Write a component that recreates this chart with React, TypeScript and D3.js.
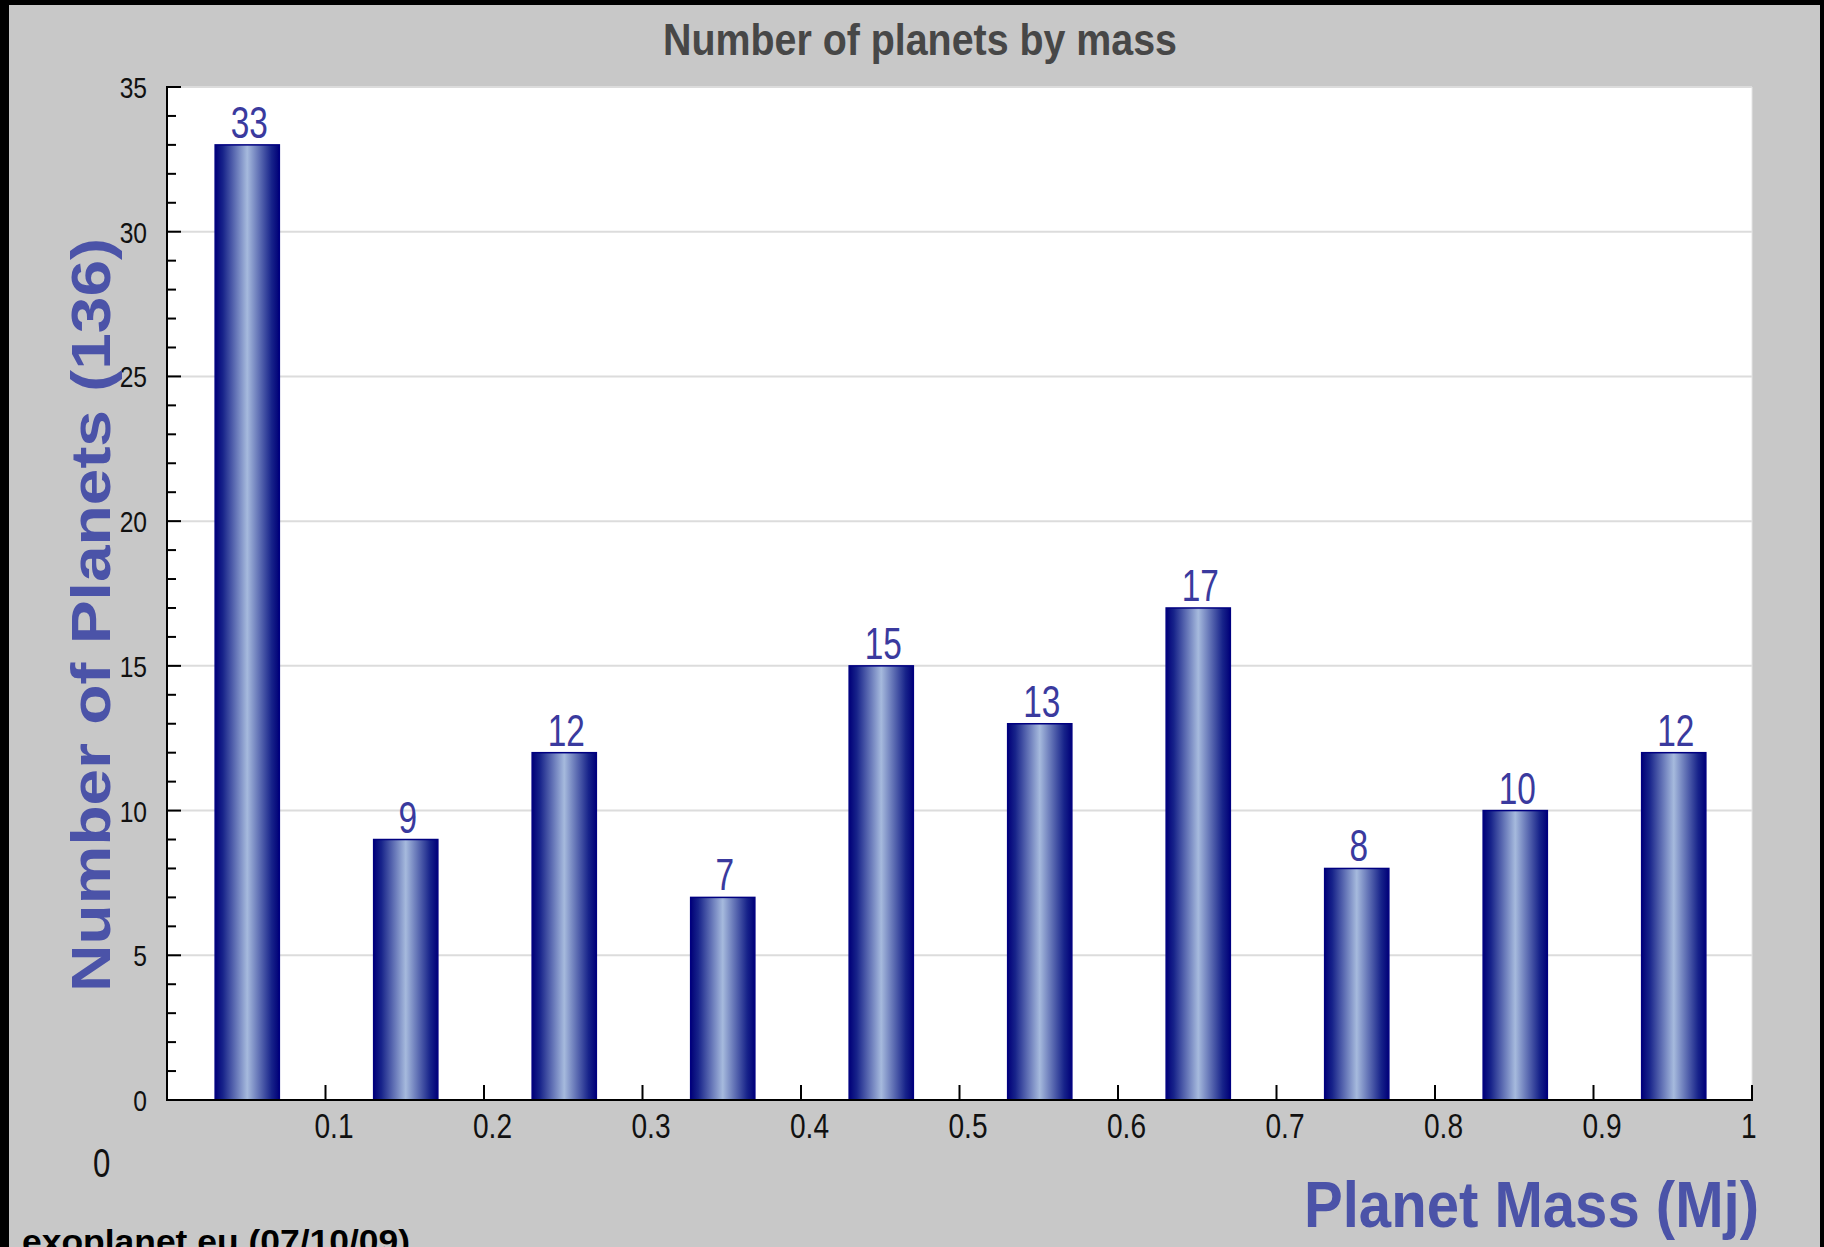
import React from "react";
import * as d3 from "d3";

const binLower = [0, 0.1, 0.2, 0.3, 0.4, 0.5, 0.6, 0.7, 0.8, 0.9];
const planetCounts = [33, 9, 12, 7, 15, 13, 17, 8, 10, 12];
const xTickValues = [0.1, 0.2, 0.3, 0.4, 0.5, 0.6, 0.7, 0.8, 0.9, 1];
const xTickLabels = ["0.1", "0.2", "0.3", "0.4", "0.5", "0.6", "0.7", "0.8", "0.9", "1"];
const yMajorTicks = [0, 5, 10, 15, 20, 25, 30, 35];
const yTickLabels = ["0", "5", "10", "15", "20", "25", "30", "35"];
const titleText = "Number of planets by mass";
const yTitleText = "Number of Planets (136)";
const xTitleText = "Planet Mass (Mj)";
const footerText = "exoplanet.eu (07/10/09)";

const W = 1824;
const H = 1247;
const FONT = "'Liberation Sans', Arial, sans-serif";

export default function App() {
  const x = d3.scaleLinear().domain([0, 1]).range([167, 1752]);
  const y = d3.scaleLinear().domain([0, 35]).range([1100, 87]);
  const binW = 0.1;
  const barFrac = 0.405;
  const minorTicks = d3.range(0, 36, 1);
  const blue = "#4b53a8";

  return (
    <svg
      width={W}
      height={H}
      viewBox={`0 0 ${W} ${H}`}
      style={{ position: "absolute", left: 0, top: 0, display: "block" }}
    >
      <defs>
        <linearGradient id="barGrad" x1="0" y1="0" x2="1" y2="0">
          <stop offset="0" stopColor="#000078" />
          <stop offset="0.12" stopColor="#17238a" />
          <stop offset="0.5" stopColor="#a6badd" />
          <stop offset="0.88" stopColor="#17238a" />
          <stop offset="1" stopColor="#000078" />
        </linearGradient>
      </defs>
      {/* frame */}
      <rect x={0} y={0} width={W} height={H} fill="#000" />
      <rect x={9} y={5} width={W - 13} height={H} fill="#c8c8c8" />
      {/* plot area */}
      <rect x={x(0)} y={y(35)} width={x(1) - x(0)} height={y(0) - y(35)} fill="#fff" />
      {yMajorTicks.filter((v) => v > 0).map((v) => (
        <line key={"g" + v} x1={x(0)} x2={x(1)} y1={y(v)} y2={y(v)} stroke="#dcdcdc" strokeWidth={2} />
      ))}
      <line x1={x(1)} x2={x(1)} y1={y(35)} y2={y(0)} stroke="#e4e4e4" strokeWidth={1} />

      {/* bars */}
      {planetCounts.map((c, i) => {
        const cx = binLower[i] + binW / 2;
        const x0 = x(cx - (binW * barFrac) / 2) + 1;
        const x1 = x(cx + (binW * barFrac) / 2) + 1;
        return (
          <g key={"b" + i}>
            <rect x={x0} y={y(c)} width={x1 - x0} height={y(0) - y(c)} fill="url(#barGrad)" stroke="#000080" strokeWidth={1.5} />
            <g transform={`translate(${(x0 + x1) / 2 + 2},${y(c) - 7}) scale(0.76,1)`}>
              <text textAnchor="middle" fontFamily={FONT} fontSize={44} fill="#3a3a9e">{String(c)}</text>
            </g>
          </g>
        );
      })}

      {/* axes */}
      <line x1={x(0)} x2={x(0)} y1={y(35) - 1} y2={y(0) + 1} stroke="#000" strokeWidth={2} />
      <line x1={x(0) - 1} x2={x(1) + 1} y1={y(0)} y2={y(0)} stroke="#000" strokeWidth={2} />
      {minorTicks.map((v) => (
        <line key={"t" + v} x1={x(0)} x2={x(0) + (v % 5 === 0 ? 14 : 9)} y1={y(v)} y2={y(v)} stroke="#000" strokeWidth={2} />
      ))}
      {xTickValues.map((v) => (
        <line key={"xt" + v} x1={x(v)} x2={x(v)} y1={y(0)} y2={y(0) - 15} stroke="#000" strokeWidth={2} />
      ))}

      {/* y tick labels */}
      {yMajorTicks.map((v, i) => (
        <g key={"yl" + v} transform={`translate(147,${y(v) + 11}) scale(0.82,1)`}>
          <text textAnchor="end" fontFamily={FONT} fontSize={30} fill="#111">{yTickLabels[i]}</text>
        </g>
      ))}
      {/* x tick labels */}
      {xTickValues.map((v, i) => (
        <g key={"xl" + v} transform={`translate(${x(v) - 11},1138) scale(0.78,1)`}>
          <text textAnchor="start" fontFamily={FONT} fontSize={36} fill="#111">{xTickLabels[i]}</text>
        </g>
      ))}
      <g transform="translate(93,1177) scale(0.78,1)">
        <text textAnchor="start" fontFamily={FONT} fontSize={40} fill="#111">0</text>
      </g>

      {/* titles */}
      <text x={920} y={55} textAnchor="middle" fontFamily={FONT} fontWeight="bold" fontSize={45} fill="#474747" textLength={514} lengthAdjust="spacingAndGlyphs">{titleText}</text>
      <text
        transform="translate(110,615) rotate(-90)"
        textAnchor="middle"
        fontFamily={FONT}
        fontWeight="bold"
        fontSize={56}
        fill={blue}
        textLength={754}
        lengthAdjust="spacingAndGlyphs"
      >
        {yTitleText}
      </text>
      <text x={1304} y={1227} textAnchor="start" fontFamily={FONT} fontWeight="bold" fontSize={65} fill={blue} textLength={455} lengthAdjust="spacingAndGlyphs">{xTitleText}</text>
      <text x={22} y={1253} textAnchor="start" fontFamily={FONT} fontWeight="bold" fontSize={34} fill="#000" textLength={388} lengthAdjust="spacingAndGlyphs">{footerText}</text>
    </svg>
  );
}
